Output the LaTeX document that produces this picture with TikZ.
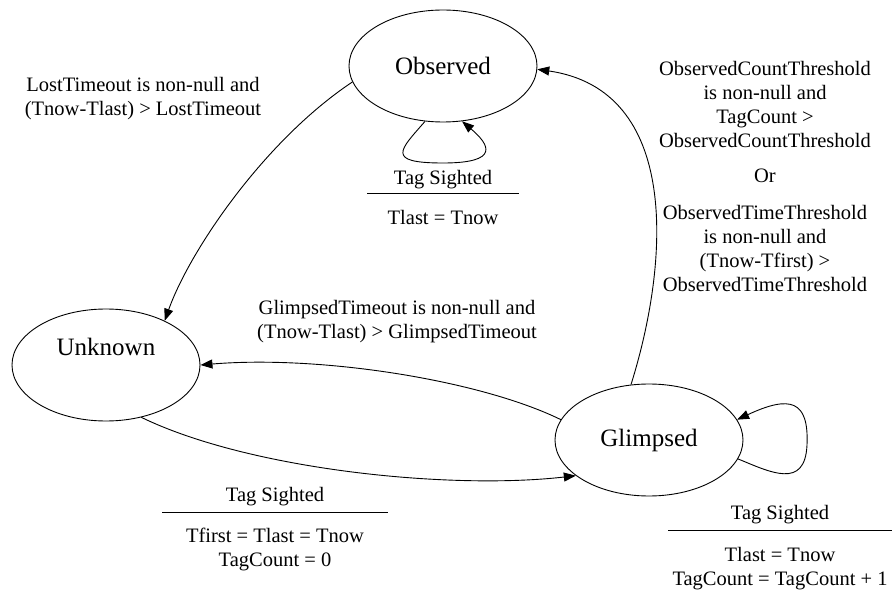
\documentclass[tikz,border=0pt]{standalone}
\usepackage{fontspec}
\setmainfont{LiberationSerif}[Extension=.ttf,UprightFont=*-Regular,
  BoldFont=*-Bold,ItalicFont=*-Italic,BoldItalicFont=*-BoldItalic]
\usetikzlibrary{arrows.meta,shapes.geometric}
\newcommand{\statefont}{\fontsize{25}{30}\selectfont}
\newcommand{\labelfont}{\fontsize{20.5}{24}\selectfont}
\begin{document}
\begin{tikzpicture}[x=1pt,y=1pt,
  state/.style={ellipse, draw, line width=0.9pt, minimum width=188pt,
    minimum height=112pt, inner sep=0pt, font=\statefont},
  lbl/.style={align=center, inner sep=0pt, font=\labelfont},
  trans/.style={line width=0.9pt, -{Triangle[length=12pt,width=9pt]}},
  rulebar/.style={line width=0.9pt}]
\useasboundingbox (0,0) rectangle (892,590);

% states
\node[state] (obs) at (443,524) {Observed};
\node[state, label={[yshift=18pt, font=\statefont]center:Unknown}] (unk) at (106,225) {};
\node[state] (gli) at (649,150) {Glimpsed};

% Observed -> Unknown
\draw[trans] (obs.190) .. controls (265,450) and (190,340) .. (unk.37);
\node[lbl] (lost) at (143,491) {LostTimeout is non-null and\\(Tnow-Tlast) > LostTimeout};

% Glimpsed -> Unknown
\draw[trans] (gli.167) .. controls (480,210) and (320,235) .. (unk.east);
\node[lbl] (gto) at (397,268) {GlimpsedTimeout is non-null and\\(Tnow-Tlast) > GlimpsedTimeout};

% Unknown -> Glimpsed
\draw[trans] (unk.-56) .. controls (250,120) and (450,100) .. (gli.206);
\node[lbl] (ts1) at (275,93) {Tag Sighted};
\draw[rulebar] (162,78) -- (388,78);
\node[lbl] (act1) at (275,41) {Tfirst = Tlast = Tnow\\TagCount = 0};

% Glimpsed -> Observed
\draw[trans] (gli.108) .. controls (670,330) and (680,500) .. (obs.-2);
\node[lbl] (cnt) at (765,486) {ObservedCountThreshold\\is non-null and\\TagCount >\\ObservedCountThreshold};
\node[lbl] (orw) at (765,414) {Or};
\node[lbl] (tim) at (765,342) {ObservedTimeThreshold\\is non-null and\\(Tnow-Tfirst) >\\ObservedTimeThreshold};

% Observed self-loop
\draw[trans] (obs.-108) .. controls (400,440) and (385,427) .. (443,427)
  .. controls (500,427) and (490,445) .. (obs.-71);
\node[lbl] (ts2) at (443,410) {Tag Sighted};
\draw[rulebar] (367,397) -- (519,397);
\node[lbl] (act2) at (443,373) {Tlast = Tnow};

% Glimpsed self-loop
\draw[trans] (gli.-12) .. controls (770,118) and (805,100) .. (807,145)
  .. controls (809,190) and (790,195) .. (gli.13);
\node[lbl] (ts3) at (780,75) {Tag Sighted};
\draw[rulebar] (668,60) -- (892,60);
\node[lbl] (act3) at (780,21) {Tlast = Tnow\\TagCount = TagCount + 1};
\end{tikzpicture}
\end{document}
